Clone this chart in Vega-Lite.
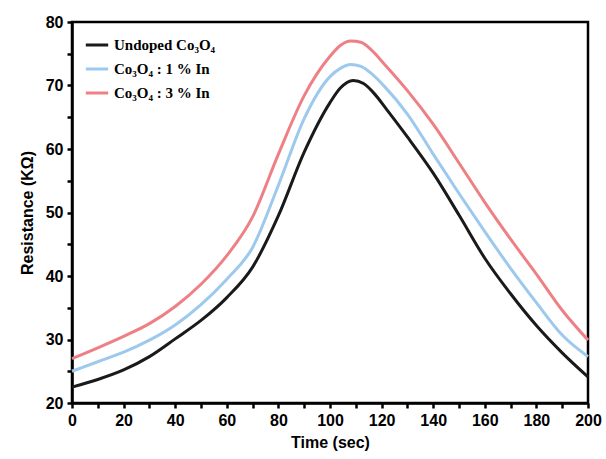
{
  "$schema": "https://vega.github.io/schema/vega-lite/v6.json",
  "width": 516,
  "height": 381,
  "autosize": "none",
  "padding": {"left": 72, "top": 22, "right": 18, "bottom": 56},
  "background": "white",
  "config": {
    "view": {"stroke": "black", "strokeWidth": 2.5},
    "font": "Liberation Sans"
  },
  "data": {
    "values": [
      {"t": 0, "r": 22.5, "s": "Undoped Co₃O₄"},
      {"t": 10, "r": 23.7, "s": "Undoped Co₃O₄"},
      {"t": 20, "r": 25.2, "s": "Undoped Co₃O₄"},
      {"t": 30, "r": 27.3, "s": "Undoped Co₃O₄"},
      {"t": 40, "r": 30.1, "s": "Undoped Co₃O₄"},
      {"t": 50, "r": 33, "s": "Undoped Co₃O₄"},
      {"t": 60, "r": 36.6, "s": "Undoped Co₃O₄"},
      {"t": 70, "r": 41.4, "s": "Undoped Co₃O₄"},
      {"t": 80, "r": 49.5, "s": "Undoped Co₃O₄"},
      {"t": 90, "r": 59.5, "s": "Undoped Co₃O₄"},
      {"t": 100, "r": 67.3, "s": "Undoped Co₃O₄"},
      {"t": 104, "r": 69.6, "s": "Undoped Co₃O₄"},
      {"t": 109, "r": 70.8, "s": "Undoped Co₃O₄"},
      {"t": 113, "r": 70.3, "s": "Undoped Co₃O₄"},
      {"t": 117, "r": 68.8, "s": "Undoped Co₃O₄"},
      {"t": 122, "r": 66.2, "s": "Undoped Co₃O₄"},
      {"t": 130, "r": 61.9, "s": "Undoped Co₃O₄"},
      {"t": 140, "r": 56.2, "s": "Undoped Co₃O₄"},
      {"t": 150, "r": 49.6, "s": "Undoped Co₃O₄"},
      {"t": 160, "r": 42.8, "s": "Undoped Co₃O₄"},
      {"t": 170, "r": 37.2, "s": "Undoped Co₃O₄"},
      {"t": 180, "r": 32.2, "s": "Undoped Co₃O₄"},
      {"t": 190, "r": 27.9, "s": "Undoped Co₃O₄"},
      {"t": 200, "r": 24.1, "s": "Undoped Co₃O₄"},
      {"t": 0, "r": 25, "s": "Co₃O₄ : 1 % In"},
      {"t": 10, "r": 26.5, "s": "Co₃O₄ : 1 % In"},
      {"t": 20, "r": 28, "s": "Co₃O₄ : 1 % In"},
      {"t": 30, "r": 29.9, "s": "Co₃O₄ : 1 % In"},
      {"t": 40, "r": 32.3, "s": "Co₃O₄ : 1 % In"},
      {"t": 50, "r": 35.5, "s": "Co₃O₄ : 1 % In"},
      {"t": 60, "r": 39.5, "s": "Co₃O₄ : 1 % In"},
      {"t": 70, "r": 44.5, "s": "Co₃O₄ : 1 % In"},
      {"t": 80, "r": 54.3, "s": "Co₃O₄ : 1 % In"},
      {"t": 90, "r": 64.8, "s": "Co₃O₄ : 1 % In"},
      {"t": 100, "r": 71.4, "s": "Co₃O₄ : 1 % In"},
      {"t": 104, "r": 72.7, "s": "Co₃O₄ : 1 % In"},
      {"t": 108, "r": 73.3, "s": "Co₃O₄ : 1 % In"},
      {"t": 112, "r": 73, "s": "Co₃O₄ : 1 % In"},
      {"t": 116, "r": 71.9, "s": "Co₃O₄ : 1 % In"},
      {"t": 121, "r": 69.9, "s": "Co₃O₄ : 1 % In"},
      {"t": 130, "r": 65.5, "s": "Co₃O₄ : 1 % In"},
      {"t": 140, "r": 59.2, "s": "Co₃O₄ : 1 % In"},
      {"t": 150, "r": 53, "s": "Co₃O₄ : 1 % In"},
      {"t": 160, "r": 47, "s": "Co₃O₄ : 1 % In"},
      {"t": 170, "r": 41.2, "s": "Co₃O₄ : 1 % In"},
      {"t": 180, "r": 35.8, "s": "Co₃O₄ : 1 % In"},
      {"t": 190, "r": 30.7, "s": "Co₃O₄ : 1 % In"},
      {"t": 200, "r": 27.3, "s": "Co₃O₄ : 1 % In"},
      {"t": 0, "r": 27, "s": "Co₃O₄ : 3 % In"},
      {"t": 10, "r": 28.7, "s": "Co₃O₄ : 3 % In"},
      {"t": 20, "r": 30.5, "s": "Co₃O₄ : 3 % In"},
      {"t": 30, "r": 32.5, "s": "Co₃O₄ : 3 % In"},
      {"t": 40, "r": 35.2, "s": "Co₃O₄ : 3 % In"},
      {"t": 50, "r": 38.7, "s": "Co₃O₄ : 3 % In"},
      {"t": 60, "r": 43.2, "s": "Co₃O₄ : 3 % In"},
      {"t": 70, "r": 49.3, "s": "Co₃O₄ : 3 % In"},
      {"t": 80, "r": 59.2, "s": "Co₃O₄ : 3 % In"},
      {"t": 90, "r": 68.4, "s": "Co₃O₄ : 3 % In"},
      {"t": 100, "r": 74.6, "s": "Co₃O₄ : 3 % In"},
      {"t": 104, "r": 76.3, "s": "Co₃O₄ : 3 % In"},
      {"t": 108, "r": 77, "s": "Co₃O₄ : 3 % In"},
      {"t": 112, "r": 76.8, "s": "Co₃O₄ : 3 % In"},
      {"t": 116, "r": 75.6, "s": "Co₃O₄ : 3 % In"},
      {"t": 121, "r": 73.4, "s": "Co₃O₄ : 3 % In"},
      {"t": 130, "r": 69.2, "s": "Co₃O₄ : 3 % In"},
      {"t": 140, "r": 63.9, "s": "Co₃O₄ : 3 % In"},
      {"t": 150, "r": 57.8, "s": "Co₃O₄ : 3 % In"},
      {"t": 160, "r": 51.6, "s": "Co₃O₄ : 3 % In"},
      {"t": 170, "r": 45.8, "s": "Co₃O₄ : 3 % In"},
      {"t": 180, "r": 40.3, "s": "Co₃O₄ : 3 % In"},
      {"t": 190, "r": 34.6, "s": "Co₃O₄ : 3 % In"},
      {"t": 200, "r": 29.9, "s": "Co₃O₄ : 3 % In"}
    ]
  },
  "mark": {"type": "line", "interpolate": "monotone", "strokeWidth": 3},
  "encoding": {
    "x": {
      "field": "t", "type": "quantitative",
      "scale": {"domain": [0, 200], "nice": false},
      "axis": {
        "title": "Time (sec)",
        "values": [0,10,20,30,40,50,60,70,80,90,100,110,120,130,140,150,160,170,180,190,200],
        "labelExpr": "datum.value % 20 == 0 ? datum.label : ''",
        "grid": false, "domainColor": "black", "domainWidth": 2.5,
        "tickColor": "black", "tickWidth": 2.5, "tickSize": 5,
        "labelFont": "Liberation Sans", "labelFontSize": 16, "labelFontWeight": "bold", "labelColor": "black",
        "labelPadding": 4, "labelFlush": false,
        "titleFont": "Liberation Sans", "titleFontSize": 16, "titleFontWeight": "bold", "titleColor": "black",
        "titlePadding": 6
      }
    },
    "y": {
      "field": "r", "type": "quantitative",
      "scale": {"domain": [20, 80], "nice": false},
      "axis": {
        "title": "Resistance (KΩ)",
        "values": [20,25,30,35,40,45,50,55,60,65,70,75,80],
        "labelExpr": "datum.value % 10 == 0 ? datum.label : ''",
        "grid": false, "domainColor": "black", "domainWidth": 2.5,
        "tickColor": "black", "tickWidth": 2.5, "tickSize": 5,
        "labelFont": "Liberation Sans", "labelFontSize": 16, "labelFontWeight": "bold", "labelColor": "black",
        "labelPadding": 4,
        "titleFont": "Liberation Sans", "titleFontSize": 16, "titleFontWeight": "bold", "titleColor": "black",
        "titlePadding": 10
      }
    },
    "color": {
      "field": "s", "type": "nominal",
      "scale": {"domain": ["Undoped Co₃O₄", "Co₃O₄ : 1 % In", "Co₃O₄ : 3 % In"], "range": ["#1a1a1a", "#9DC9EE", "#EE8085"]},
      "legend": {
        "title": null, "orient": "none", "legendX": 12, "legendY": 10,
        "symbolType": "stroke", "symbolStrokeWidth": 3, "symbolSize": 500,
        "labelFont": "Liberation Serif", "labelFontSize": 15, "labelFontWeight": "bold", "labelColor": "black",
        "rowPadding": 3
      }
    }
  }
}
